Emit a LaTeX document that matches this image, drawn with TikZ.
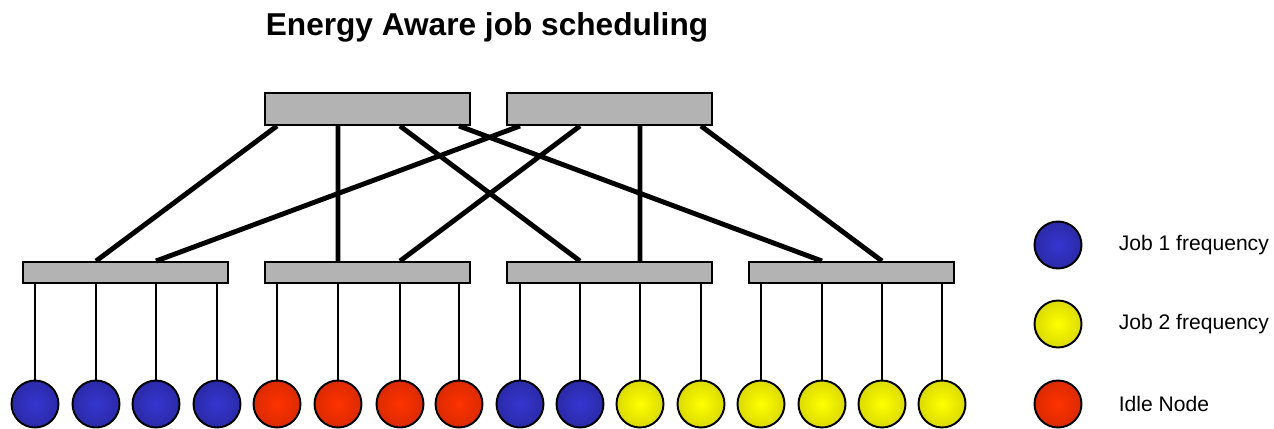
\documentclass[tikz,border=0pt]{standalone}
\usepackage{fontspec}
\setmainfont{Liberation Sans}
\usetikzlibrary{positioning}
\definecolor{swgray}{RGB}{179,179,179}
\pgfdeclareradialshading{jobone}{\pgfpointorigin}{rgb(0bp)=(0.21,0.21,0.82); rgb(28bp)=(0.16,0.16,0.64); rgb(50bp)=(0.1,0.1,0.38)}
\pgfdeclareradialshading{jobtwo}{\pgfpointorigin}{rgb(0bp)=(1,1,0); rgb(28bp)=(0.84,0.84,0); rgb(50bp)=(0.52,0.52,0)}
\pgfdeclareradialshading{idle}{\pgfpointorigin}{rgb(0bp)=(1,0.2,0); rgb(28bp)=(0.84,0.16,0); rgb(50bp)=(0.46,0.09,0)}
\tikzset{
switchbox/.style={draw, fill=swgray, line width=1.1pt, inner sep=0pt, minimum width=4.1cm},
core/.style={switchbox, minimum height=0.64cm},
leaf/.style={switchbox, minimum height=0.42cm},
cnode/.style={circle, draw, line width=1.1pt, inner sep=0pt, minimum size=0.94cm, shading=#1},
uplink/.style={line width=2.8pt},
downlink/.style={line width=1.1pt},
legend/.style={inner sep=0pt, font=\fontsize{12}{14}\selectfont},
}

\begin{document}
\begin{tikzpicture}[x=0.02cm, y=-0.02cm]
    \useasboundingbox (0,0) rectangle (1274,429);
    \node[anchor=base, font=\fontsize{18}{21}\selectfont\bfseries] (title) at (487,36) {Energy Aware job scheduling};
    % switches
    \node[core] (t1) at (367.5,109) {};
    \node[core] (t2) at (609.5,109) {};
    \node[leaf] (s1) at (125.5,272.5) {};
    \node[leaf] (s2) at (367.5,272.5) {};
    \node[leaf] (s3) at (609.5,272.5) {};
    \node[leaf] (s4) at (851.5,272.5) {};
    % compute nodes
    \foreach \i/\x/\c in {1/35/jobone, 2/96/jobone, 3/156/jobone, 4/217/jobone,
                          5/277/idle, 6/338/idle, 7/400/idle, 8/459/idle,
                          9/520/jobone, 10/580/jobone, 11/640/jobtwo, 12/701/jobtwo,
                          13/761/jobtwo, 14/822/jobtwo, 15/882/jobtwo, 16/942/jobtwo}
        \node[cnode=\c] (n\i) at (\x,404) {};
    \foreach \i/\s in {1/1, 2/1, 3/1, 4/1, 5/2, 6/2, 7/2, 8/2,
                       9/3, 10/3, 11/3, 12/3, 13/4, 14/4, 15/4, 16/4}
        \draw[downlink] (s\s.south -| n\i) -- (n\i);
    % links between the two levels
    \draw[uplink]
        (t1.south -| n5) -- (s1.north -| n2)
        (t1.south -| n6) -- (s2.north -| n6)
        (t1.south -| n7) -- (s3.north -| n10)
        (t1.south -| n8) -- (s4.north -| n14)
        (t2.south -| n9) -- (s1.north -| n3)
        (t2.south -| n10) -- (s2.north -| n7)
        (t2.south -| n11) -- (s3.north -| n11)
        (t2.south -| n12) -- (s4.north -| n15);
    % legend
    \node[cnode=jobone] (l1) at (1058,245) {};
    \node[cnode=jobtwo] (l2) at (1058,324) {};
    \node[cnode=idle] (l3) at (1058,404) {};
    \node[legend, right=0.72cm of l1] (t_l1) {Job 1 frequency};
    \node[legend, right=0.72cm of l2] (t_l2) {Job 2 frequency};
    \node[legend, right=0.72cm of l3] (t_l3) {Idle Node};
\end{tikzpicture}
\end{document}
